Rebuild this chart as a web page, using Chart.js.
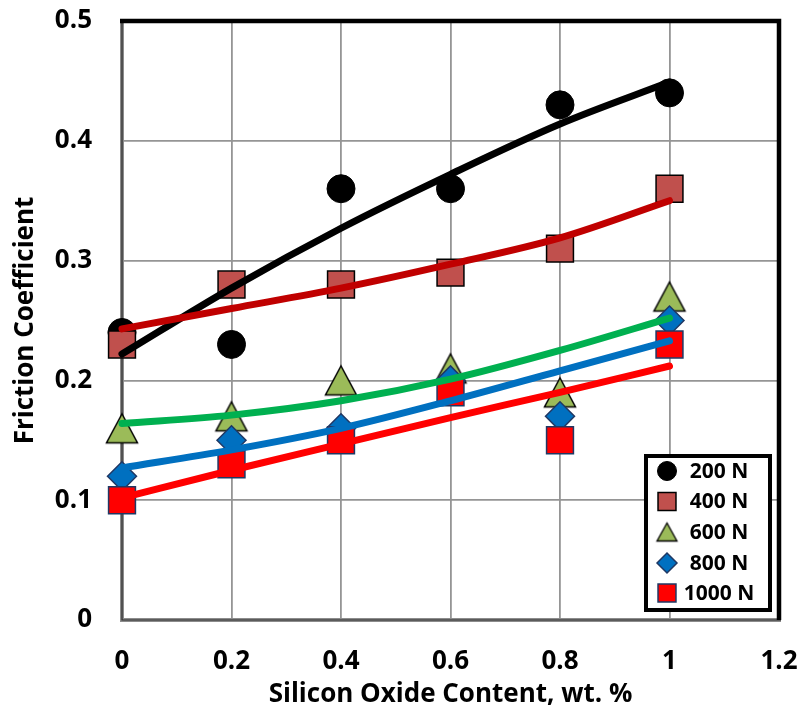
<!DOCTYPE html>
<html>
<head>
<meta charset="utf-8">
<script src="https://cdn.jsdelivr.net/npm/chart.js@4.4.1/dist/chart.umd.min.js"></script>
<style>
  html, body { margin: 0; padding: 0; background: #ffffff; }
  canvas { display: block; }
</style>
</head>
<body>
<canvas id="chart" width="801" height="713"></canvas>
<script>
// Silicon oxide content (wt. %) of the tested samples
const silica = [0, 0.2, 0.4, 0.6, 0.8, 1.0];
const loads = ['200 N', '400 N', '600 N', '800 N', '1000 N'];

// Measured friction coefficients per applied load
const mu200  = [0.24, 0.23, 0.36, 0.36, 0.43, 0.44];
const mu400  = [0.23, 0.28, 0.28, 0.29, 0.31, 0.36];
const mu600  = [0.16, 0.17, 0.20, 0.21, 0.19, 0.27];
const mu800  = [0.12, 0.15, 0.16, 0.20, 0.17, 0.25];
const mu1000 = [0.10, 0.13, 0.15, 0.19, 0.15, 0.23];

// Trend curves through the measurements (value at each silica content)
const fit200  = [0.222, 0.277, 0.327, 0.372, 0.414, 0.449];
const fit400  = [0.243, 0.260, 0.277, 0.297, 0.319, 0.350];
const fit600  = [0.164, 0.171, 0.183, 0.201, 0.225, 0.252];
const fit800  = [0.127, 0.142, 0.160, 0.183, 0.208, 0.233];
const fit1000 = [0.102, 0.125, 0.147, 0.169, 0.190, 0.212];

// Axis ticks
const xTicks = [0, 0.2, 0.4, 0.6, 0.8, 1, 1.2];
const yTicks = [0, 0.1, 0.2, 0.3, 0.4, 0.5];

const FONT = "'Open Sans', 'Liberation Sans', sans-serif";

function pairs(values) {
  return silica.map((x, i) => ({ x: x, y: values[i] }));
}

// Triangle marker whose box is centred on the data point
function triangleMark(w, h, fill, stroke, lw) {
  const c = document.createElement('canvas');
  c.width = Math.ceil(w + lw * 2 + 2);
  c.height = Math.ceil(h + lw * 2 + 2);
  const g = c.getContext('2d');
  const cx = c.width / 2;
  const top = (c.height - h) / 2;
  g.beginPath();
  g.moveTo(cx, top);
  g.lineTo(cx + w / 2, top + h);
  g.lineTo(cx - w / 2, top + h);
  g.closePath();
  g.fillStyle = fill;
  g.fill();
  g.lineWidth = lw;
  g.strokeStyle = stroke;
  g.lineJoin = 'miter';
  g.stroke();
  return c;
}

const triBig = triangleMark(31, 29, '#9BBB59', '#000000', 1.5);
const triSmall = triangleMark(20, 18, '#9BBB59', '#000000', 1.3);

const markerSets = [
  { label: loads[0], values: mu200,  style: 'circle',  radius: 14,   fill: '#000000', edge: '#000000', bw: 1,   legendRadius: 9.5, legendStyle: 'circle' },
  { label: loads[1], values: mu400,  style: 'rect',    radius: 19,   fill: '#C0504D', edge: '#000000', bw: 1.5, legendRadius: 12.7, legendStyle: 'rect' },
  { label: loads[2], values: mu600,  style: triBig,    radius: 15,   fill: '#9BBB59', edge: '#000000', bw: 1.5, legendRadius: 10, legendStyle: triSmall },
  { label: loads[3], values: mu800,  style: 'rectRot', radius: 14.5, fill: '#0070C0', edge: '#1F3864', bw: 1.5, legendRadius: 10, legendStyle: 'rectRot' },
  { label: loads[4], values: mu1000, style: 'rect',    radius: 19,   fill: '#FF0000', edge: '#1F3864', bw: 1.5, legendRadius: 12.7, legendStyle: 'rect' }
];

const fitSets = [
  { values: fit200,  color: '#000000' },
  { values: fit400,  color: '#C00000' },
  { values: fit600,  color: '#00B050' },
  { values: fit800,  color: '#0070C0' },
  { values: fit1000, color: '#FF0000' }
];

const datasets = [];
markerSets.forEach((m, i) => {
  datasets.push({
    label: m.label,
    data: pairs(m.values),
    showLine: false,
    pointStyle: m.style,
    pointRadius: m.radius,
    pointHoverRadius: m.radius,
    pointBackgroundColor: m.fill,
    pointBorderColor: m.edge,
    pointBorderWidth: m.bw,
    order: 20 - i,
    clip: false
  });
});
fitSets.forEach((f, i) => {
  datasets.push({
    label: loads[i] + ' trend',
    data: pairs(f.values),
    showLine: true,
    pointRadius: 0,
    pointHoverRadius: 0,
    borderColor: f.color,
    borderWidth: 7,
    borderCapStyle: 'round',
    borderJoinStyle: 'round',
    cubicInterpolationMode: 'monotone',
    fill: false,
    order: 10 - i,
    clip: false
  });
});

// Plot frame: grey left/bottom axes, heavy black top/right edges
const framePlugin = {
  id: 'frame',
  beforeDatasetsDraw(chart) {
    const { ctx, chartArea: a } = chart;
    ctx.save();
    ctx.lineCap = 'butt';
    ctx.strokeStyle = '#8c8c8c';
    ctx.lineWidth = 4;
    ctx.beginPath();
    ctx.moveTo(a.left, a.top - 2);
    ctx.lineTo(a.left, a.bottom);
    ctx.lineTo(a.right + 2, a.bottom);
    ctx.stroke();
    ctx.strokeStyle = '#2b2b2b';
    ctx.lineWidth = 1.2;
    ctx.beginPath();
    ctx.moveTo(a.left, a.top - 2);
    ctx.lineTo(a.left, a.bottom);
    ctx.lineTo(a.right + 2, a.bottom);
    ctx.stroke();
    ctx.strokeStyle = '#000000';
    ctx.lineWidth = 4.5;
    ctx.beginPath();
    ctx.moveTo(a.left - 2, a.top);
    ctx.lineTo(a.right, a.top);
    ctx.lineTo(a.right, a.bottom);
    ctx.stroke();
    ctx.restore();
  }
};

// Legend box in the lower right corner of the plot
const legendPlugin = {
  id: 'cornerLegend',
  afterDraw(chart) {
    const { ctx } = chart;
    const box = { x: 646, y: 456, w: 124, h: 154 };
    ctx.save();
    ctx.fillStyle = '#ffffff';
    ctx.fillRect(box.x, box.y, box.w, box.h);
    ctx.strokeStyle = '#000000';
    ctx.lineWidth = 4;
    ctx.lineJoin = 'miter';
    ctx.strokeRect(box.x, box.y, box.w, box.h);
    const rows = [471, 501.5, 532, 563, 593];
    ctx.font = 'bold 21px ' + FONT;
    ctx.textBaseline = 'middle';
    ctx.textAlign = 'center';
    markerSets.forEach((m, i) => {
      ctx.fillStyle = m.fill;
      ctx.strokeStyle = m.edge;
      ctx.lineWidth = m.bw;
      Chart.helpers.drawPoint(ctx, {
        pointStyle: m.legendStyle,
        rotation: 0,
        radius: m.legendRadius,
        borderWidth: m.bw
      }, 667, rows[i]);
      ctx.fillStyle = '#000000';
      ctx.fillText(m.label, 719, rows[i] + 1);
    });
    ctx.restore();
  }
};

// Fixed axis thickness, and no extra room reserved for edge labels
function pinScale(scale, size) {
  if (scale.isHorizontal()) scale.height = size; else scale.width = size;
  scale.paddingTop = 0;
  scale.paddingBottom = 0;
  scale.paddingLeft = 0;
  scale.paddingRight = 0;
}

const tickFont = { family: FONT, size: 26, weight: 'bold' };
const titleFont = { family: FONT, size: 26, weight: 'bold', lineHeight: 1.2 };

new Chart(document.getElementById('chart'), {
  type: 'scatter',
  data: { datasets: datasets },
  options: {
    responsive: false,
    animation: false,
    devicePixelRatio: 1,
    layout: { padding: { top: 21, right: 22, left: 0, bottom: 0 } },
    plugins: {
      legend: { display: false },
      tooltip: { enabled: false }
    },
    scales: {
      x: {
        type: 'linear',
        position: 'bottom',
        min: 0,
        max: 1.2,
        afterBuildTicks(scale) { scale.ticks = xTicks.map(v => ({ value: v })); },
        afterFit(scale) { pinScale(scale, 93); },
        grid: { color: '#959595', lineWidth: 1.8, drawTicks: false },
        border: { display: false },
        ticks: {
          font: tickFont,
          color: '#000000',
          padding: 26,
          maxRotation: 0,
          callback: (v) => String(v)
        },
        title: {
          display: true,
          text: 'Silicon Oxide Content, wt. %',
          font: titleFont,
          color: '#000000',
          padding: { top: 0, bottom: 3 }
        }
      },
      y: {
        type: 'linear',
        min: 0,
        max: 0.5,
        afterBuildTicks(scale) { scale.ticks = yTicks.map(v => ({ value: v })); },
        afterFit(scale) { pinScale(scale, 122); },
        grid: { color: '#959595', lineWidth: 1.8, drawTicks: false },
        border: { display: false },
        ticks: {
          font: tickFont,
          color: '#000000',
          padding: 30,
          callback: (v) => String(v)
        },
        title: {
          display: true,
          text: 'Friction Coefficient',
          font: titleFont,
          color: '#000000',
          padding: { top: 10, bottom: 0 }
        }
      }
    }
  },
  plugins: [framePlugin, legendPlugin]
});
</script>
</body>
</html>
